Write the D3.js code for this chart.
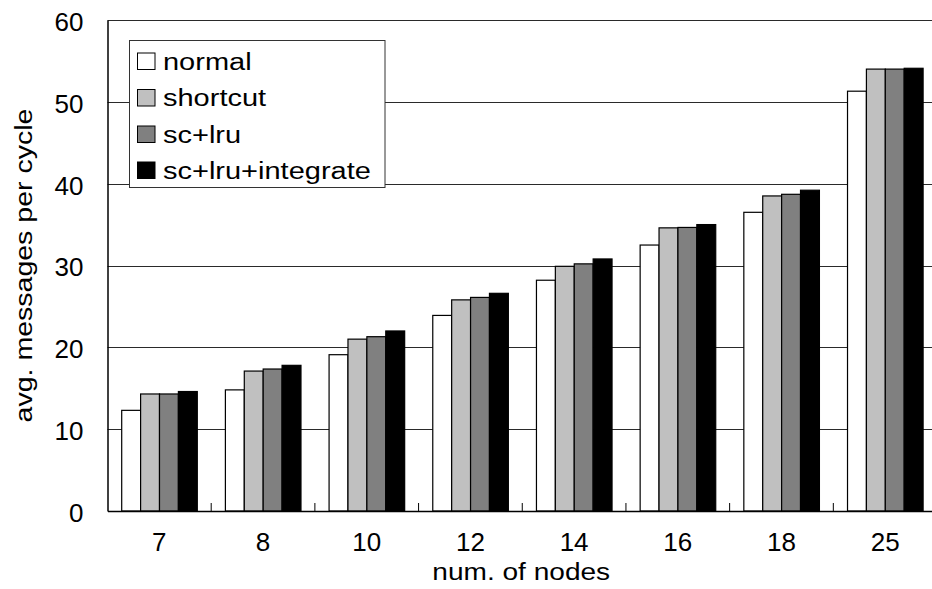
<!DOCTYPE html>
<html>
<head>
<meta charset="utf-8">
<script src="https://cdn.jsdelivr.net/npm/d3@7"></script>
<style>
  html, body { margin: 0; padding: 0; background: #fff; overflow: hidden; }
  svg { display: block; font-family: "Liberation Sans", Arial, sans-serif; }
</style>
</head>
<body>
<svg id="chart" width="932" height="589"></svg>
<script>
const categories = ["7", "8", "10", "12", "14", "16", "18", "25"];
const seriesNames = ["normal", "shortcut", "sc+lru", "sc+lru+integrate"];
const seriesColors = ["#ffffff", "#c0c0c0", "#808080", "#000000"];
const normal    = [12.3, 14.8, 19.1, 23.9, 28.2, 32.5, 36.5, 51.3];
const shortcut  = [14.3, 17.1, 21.0, 25.8, 29.9, 34.6, 38.5, 54.0];
const scLru     = [14.3, 17.35, 21.3, 26.1, 30.2, 34.65, 38.7, 54.0];
const scLruInt  = [14.6, 17.8, 22.0, 26.6, 30.8, 35.0, 39.2, 54.1];
const yTicks = [0, 10, 20, 30, 40, 50, 60];
const xTitle = "num. of nodes";
const yTitle = "avg. messages per cycle";

const seriesValues = [normal, shortcut, scLru, scLruInt];

const svg = d3.select("#chart");
const mLeft = 107.5, mRight = 937, mTop = 20, mBottom = 511;

function widen(k) {
  return sel => sel.each(function () {
    const len = this.getComputedTextLength();
    d3.select(this).attr("textLength", len * k).attr("lengthAdjust", "spacingAndGlyphs");
  });
}

const x = d3.scaleBand().domain(categories).range([mLeft, mRight]).padding(0);
const bw = x.bandwidth();
const xs = d3.scaleBand().domain(seriesNames).range([bw * 0.137, bw * 0.866]).padding(0);
const y = d3.scaleLinear().domain([0, 60]).range([mBottom, mTop]);

// gridlines
svg.append("g")
  .selectAll("line")
  .data(yTicks.filter(d => d > 0))
  .join("line")
  .attr("x1", mLeft).attr("x2", mRight)
  .attr("y1", d => Math.round(y(d)) + 0.5).attr("y2", d => Math.round(y(d)) + 0.5)
  .attr("stroke", "#2a2a2a").attr("stroke-width", 1);

// bars
const groups = svg.append("g")
  .selectAll("g")
  .data(categories)
  .join("g")
  .attr("transform", d => `translate(${x(d)},0)`);

groups.selectAll("rect")
  .data((c, i) => seriesNames.map((s, j) => ({ s, j, v: seriesValues[j][i] })))
  .join("rect")
  .attr("x", d => xs(d.s))
  .attr("width", xs.bandwidth())
  .attr("y", d => y(d.v))
  .attr("height", d => y(0) - y(d.v))
  .attr("fill", d => seriesColors[d.j])
  .attr("stroke", "#000")
  .attr("stroke-width", 1.2);

// y axis
const yAxis = svg.append("g")
  .attr("transform", `translate(${mLeft},0)`)
  .call(d3.axisLeft(y).tickValues(yTicks).tickSize(0).tickPadding(24));
yAxis.select(".domain").attr("stroke", "#000").attr("stroke-width", 1.5);
yAxis.selectAll("text").attr("font-size", 26).attr("fill", "#000")
  .attr("font-family", "Liberation Sans, Arial, sans-serif")
  .attr("dy", "0.4em");

// x axis
const xAxis = svg.append("g")
  .attr("transform", `translate(0,${mBottom})`)
  .call(d3.axisBottom(x).tickSize(0).tickPadding(22));
xAxis.select(".domain").attr("stroke", "#000").attr("stroke-width", 1.5);
xAxis.selectAll("text").attr("font-size", 26).attr("fill", "#000")
  .attr("font-family", "Liberation Sans, Arial, sans-serif");

// boundary tick marks (small, upward)
svg.append("g")
  .selectAll("line")
  .data(categories.slice(1))
  .join("line")
  .attr("x1", d => x(d)).attr("x2", d => x(d))
  .attr("y1", mBottom).attr("y2", mBottom - 8)
  .attr("stroke", "#000").attr("stroke-width", 1);

// axis titles
svg.append("text")
  .attr("x", (mLeft + mRight) / 2 - 1)
  .attr("y", 580)
  .attr("text-anchor", "middle")
  .attr("font-size", 23)
  .text(xTitle)
  .call(widen(1.22));

svg.append("text")
  .attr("transform", `translate(32,${(mTop + mBottom) / 2}) rotate(-90)`)
  .attr("text-anchor", "middle")
  .attr("font-size", 23)
  .text(yTitle)
  .call(widen(1.24));

// legend
const lg = svg.append("g");
lg.append("rect")
  .attr("x", 129.5).attr("y", 40.5).attr("width", 255.5).attr("height", 147)
  .attr("fill", "#fff").attr("stroke", "#333").attr("stroke-width", 1);
const rowY = [61, 97.5, 134, 170];
const items = lg.selectAll("g.item")
  .data(seriesNames)
  .join("g").attr("class", "item")
  .attr("transform", (d, i) => `translate(0,${rowY[i]})`);
items.append("rect")
  .attr("x", 137.5).attr("y", -8).attr("width", 17.5).attr("height", 16.5)
  .attr("fill", (d, i) => seriesColors[i])
  .attr("stroke", "#000").attr("stroke-width", 1);
items.append("text")
  .attr("x", 163)
  .attr("y", 8.5)
  .attr("font-size", 23)
  .text(d => d)
  .call(widen(1.26));
</script>
</body>
</html>
